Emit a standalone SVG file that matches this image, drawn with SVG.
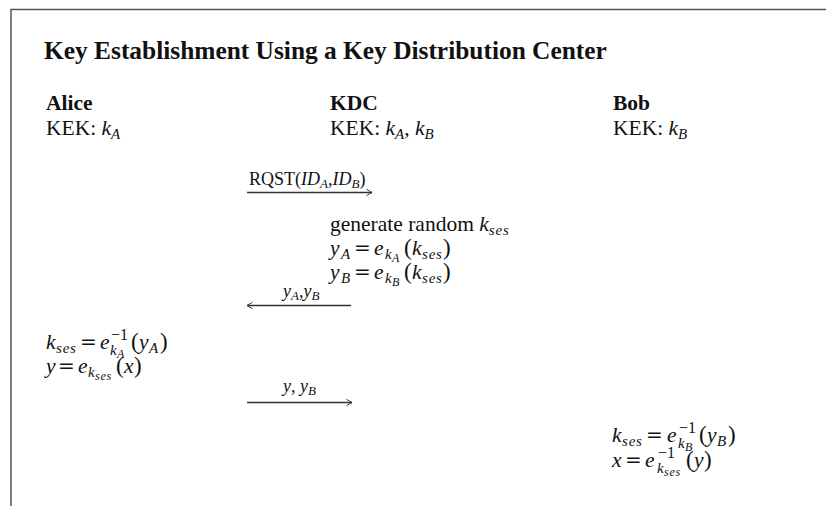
<svg xmlns="http://www.w3.org/2000/svg" width="826" height="506" viewBox="0 0 826 506">
<style>
text{font-family:"Liberation Serif","Times New Roman",serif;fill:#111;}
.t{font-size:25.4px;font-weight:bold;}
.h{font-size:21.5px;font-weight:bold;}
.b{font-size:21.5px;}
.l{font-size:18px;}
.i{font-style:italic;}
.s{font-size:15px;}
.ss{font-size:12px;}
.ls{font-size:13px;}
.sp{letter-spacing:0.8px;}
.sup{font-size:16px;}
.p{font-size:23px;}
.eq{font-family:"DejaVu Serif",serif;font-size:20px;font-style:normal;}
.conn{stroke:#333;stroke-width:1.3;fill:none;}
.frame{stroke:#555;stroke-width:1.5;fill:none;}
</style>
<defs>
<marker id="ah" viewBox="-7 -5 8 10" refX="0" refY="0" markerWidth="8" markerHeight="10" markerUnits="userSpaceOnUse" orient="auto-start-reverse">
<path d="M-5.5,-3.3 Q-2,-0.8 0,0 Q-2,0.8 -5.5,3.3" fill="none" stroke="#333" stroke-width="1"/>
</marker>
</defs>
<rect width="826" height="506" fill="#fff"/>
<path class="frame" d="M11,506 V9.5 H826"/>
<text id="title" class="t" x="44" y="59">Key Establishment Using a Key Distribution Center</text>
<g id="node-alice">
<text class="h" x="46" y="110">Alice</text>
<text class="b" x="46" y="135">KEK: <tspan class="i">k</tspan><tspan class="i s" dy="4">A</tspan></text>
<text class="b"><tspan class="i" x="46" y="349">k</tspan><tspan class="i s sp" x="56" y="353">ses</tspan><tspan class="eq" x="80" y="349">=</tspan><tspan class="i" x="100" y="349">e</tspan><tspan class="sup" x="111" y="340">−1</tspan><tspan class="i s" x="110" y="355">k</tspan><tspan class="i ss" x="117" y="358">A</tspan><tspan class="p" x="131" y="349">(</tspan><tspan class="i" x="139" y="349">y</tspan><tspan class="i s" x="149" y="353">A</tspan><tspan class="p" x="160" y="349">)</tspan></text>
<text class="b"><tspan class="i" x="46" y="373">y</tspan><tspan class="eq" x="58" y="373">=</tspan><tspan class="i" x="78" y="373">e</tspan><tspan class="i s" x="88" y="377">k</tspan><tspan class="i ss sp" x="95" y="380">ses</tspan><tspan class="p" x="116" y="373">(</tspan><tspan class="i" x="124" y="373">x</tspan><tspan class="p" x="134" y="373">)</tspan></text>
</g>
<g id="node-kdc">
<text class="h" x="330" y="110">KDC</text>
<text class="b" x="330" y="135">KEK: <tspan class="i">k</tspan><tspan class="i s" dy="4">A</tspan><tspan dy="-4">, </tspan><tspan class="i">k</tspan><tspan class="i s" dy="4">B</tspan></text>
<text class="b" x="330" y="231">generate random <tspan class="i">k</tspan><tspan class="i s sp" dy="4">ses</tspan></text>
<text class="b"><tspan class="i" x="330" y="255">y</tspan><tspan class="i s" x="341" y="259">A</tspan><tspan class="eq" x="354" y="255">=</tspan><tspan class="i" x="374" y="255">e</tspan><tspan class="i s" x="385" y="259">k</tspan><tspan class="i ss" x="392" y="262">A</tspan><tspan class="p" x="404" y="255">(</tspan><tspan class="i" x="412" y="255">k</tspan><tspan class="i s sp" x="422" y="259">ses</tspan><tspan class="p" x="443" y="255">)</tspan></text>
<text class="b"><tspan class="i" x="330" y="279">y</tspan><tspan class="i s" x="341" y="283">B</tspan><tspan class="eq" x="354" y="279">=</tspan><tspan class="i" x="374" y="279">e</tspan><tspan class="i s" x="385" y="283">k</tspan><tspan class="i ss" x="392" y="286">B</tspan><tspan class="p" x="404" y="279">(</tspan><tspan class="i" x="412" y="279">k</tspan><tspan class="i s sp" x="422" y="283">ses</tspan><tspan class="p" x="443" y="279">)</tspan></text>
</g>
<g id="node-bob">
<text class="h" x="613" y="110">Bob</text>
<text class="b" x="613" y="135">KEK: <tspan class="i">k</tspan><tspan class="i s" dy="4">B</tspan></text>
<text class="b"><tspan class="i" x="612" y="442">k</tspan><tspan class="i s sp" x="622" y="446">ses</tspan><tspan class="eq" x="646" y="442">=</tspan><tspan class="i" x="667" y="442">e</tspan><tspan class="sup" x="679" y="433">−1</tspan><tspan class="i s" x="678" y="448">k</tspan><tspan class="i ss" x="685" y="451">B</tspan><tspan class="p" x="699" y="442">(</tspan><tspan class="i" x="707" y="442">y</tspan><tspan class="i s" x="717" y="446">B</tspan><tspan class="p" x="728" y="442">)</tspan></text>
<text class="b"><tspan class="i" x="612" y="467">x</tspan><tspan class="eq" x="625" y="467">=</tspan><tspan class="i" x="645" y="467">e</tspan><tspan class="sup" x="658" y="458">−1</tspan><tspan class="i s" x="657" y="473">k</tspan><tspan class="i ss sp" x="664" y="476">ses</tspan><tspan class="p" x="686" y="467">(</tspan><tspan class="i" x="694" y="467">y</tspan><tspan class="p" x="704" y="467">)</tspan></text>
</g>
<g id="connectors">
<line class="conn" x1="247" y1="192.5" x2="372" y2="192.5" marker-end="url(#ah)"/>
<text class="l" x="249" y="185">RQST(<tspan class="i">ID</tspan><tspan class="i ls" dy="3">A</tspan><tspan dy="-3">,</tspan><tspan class="i">ID</tspan><tspan class="i ls" dy="3">B</tspan><tspan dy="-3">)</tspan></text>
<line class="conn" x1="247" y1="305.5" x2="351" y2="305.5" marker-start="url(#ah)"/>
<text class="l" x="283" y="297"><tspan class="i">y</tspan><tspan class="i ls" dy="3">A</tspan><tspan dy="-3">,</tspan><tspan class="i">y</tspan><tspan class="i ls" dy="3">B</tspan></text>
<line class="conn" x1="247" y1="402.5" x2="352" y2="402.5" marker-end="url(#ah)"/>
<text class="l" x="283" y="392"><tspan class="i">y</tspan>, <tspan class="i">y</tspan><tspan class="i ls" dy="3">B</tspan></text>
</g>
</svg>
